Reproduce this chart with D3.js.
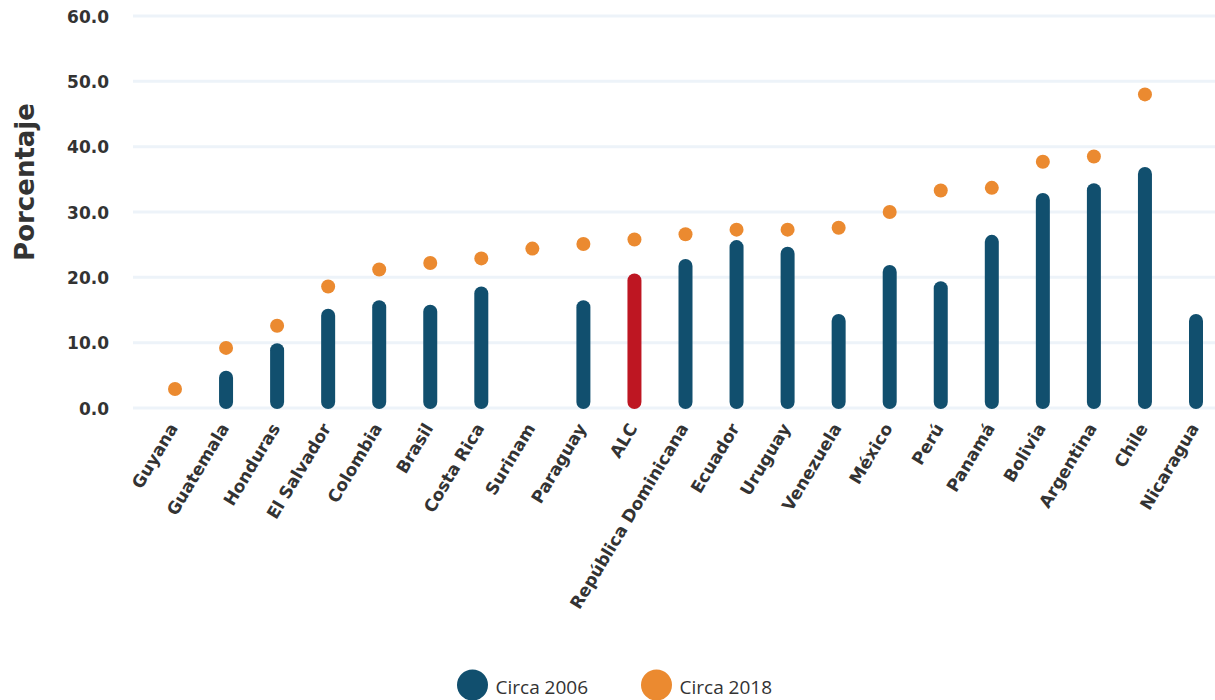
<!DOCTYPE html>
<html>
<head>
<meta charset="utf-8">
<script src="https://cdn.jsdelivr.net/npm/d3@7"></script>
<style>
  html, body { margin: 0; padding: 0; background: #fff; }
  svg { display: block; }
</style>
</head>
<body>
<svg id="chart" width="1215" height="700"></svg>
<script>
// Countries, ordered by the 2018 value
const categories = [
  "Guyana", "Guatemala", "Honduras", "El Salvador", "Colombia", "Brasil",
  "Costa Rica", "Surinam", "Paraguay", "ALC", "República Dominicana",
  "Ecuador", "Uruguay", "Venezuela", "México", "Perú", "Panamá",
  "Bolivia", "Argentina", "Chile", "Nicaragua"
];
// Circa 2006 (columns); null = no data
const values2006 = [
  null, 5.7, 9.9, 15.2, 16.5, 15.8,
  18.6, null, 16.5, 20.6, 22.8,
  25.7, 24.7, 14.4, 21.9, 19.4, 26.5,
  32.9, 34.4, 36.9, 14.4
];
// Circa 2018 (dots); null = no data
const values2018 = [
  2.9, 9.2, 12.6, 18.6, 21.2, 22.2,
  22.9, 24.4, 25.1, 25.8, 26.6,
  27.3, 27.3, 27.6, 30.0, 33.3, 33.7,
  37.7, 38.5, 48.0, null
];
const yTicks = [0, 10, 20, 30, 40, 50, 60];
const seriesNames = ["Circa 2006", "Circa 2018"];
const highlight = "ALC";

const colors = { s2006: "#114f6e", s2018: "#eb8a30", highlight: "#be1622",
                 grid: "#edf3f9", text: "#333333" };

const svg = d3.select("#chart");
const boldFont = "'DejaVu Sans', sans-serif";

const x = d3.scalePoint().domain(categories).range([175, 1196]);
const y = d3.scaleLinear().domain([0, 60]).range([408, 16]);

// Horizontal gridlines
svg.append("g").selectAll("line").data(yTicks).join("line")
  .attr("x1", 133).attr("x2", 1215)
  .attr("y1", d => y(d)).attr("y2", d => y(d))
  .attr("stroke", colors.grid).attr("stroke-width", 3);

// Y axis tick labels
const yAxis = d3.axisLeft(y).tickValues(yTicks).tickFormat(d3.format(".1f")).tickSize(0).tickPadding(0);
const gy = svg.append("g").attr("transform", "translate(109,0)").call(yAxis);
gy.select(".domain").remove();
gy.selectAll("text")
  .attr("font-family", boldFont).attr("font-weight", "bold")
  .attr("font-size", 17).attr("fill", colors.text).attr("dy", "0.36em");

// Y axis title
svg.append("text")
  .attr("transform", "translate(34,182) rotate(-90)")
  .attr("text-anchor", "middle")
  .attr("font-family", boldFont).attr("font-weight", "bold")
  .attr("font-size", 26).attr("fill", colors.text)
  .text("Porcentaje");

// X axis category labels
const xAxis = d3.axisBottom(x).tickSize(0).tickPadding(0);
const gx = svg.append("g").attr("transform", "translate(0,418)").call(xAxis);
gx.select(".domain").remove();
gx.selectAll("text")
  .attr("font-family", boldFont).attr("font-weight", "bold")
  .attr("font-size", 17).attr("fill", colors.text)
  .attr("text-anchor", "end")
  .attr("dy", 0)
  .attr("transform", "translate(3,10) rotate(-59)");

// Circa 2006 columns
const bars = categories.map((c, i) => ({ c, v: values2006[i] })).filter(d => d.v != null);
svg.append("g").selectAll("rect").data(bars).join("rect")
  .attr("x", d => x(d.c) - 7).attr("width", 14)
  .attr("y", d => y(d.v)).attr("height", d => y(0) - y(d.v) + 1)
  .attr("rx", 7).attr("ry", 7)
  .attr("fill", d => d.c === highlight ? colors.highlight : colors.s2006);

// Circa 2018 dots
const dots = categories.map((c, i) => ({ c, v: values2018[i] })).filter(d => d.v != null);
svg.append("g").selectAll("circle").data(dots).join("circle")
  .attr("cx", d => x(d.c)).attr("cy", d => y(d.v)).attr("r", 7)
  .attr("fill", colors.s2018);

// Legend
const legend = svg.append("g").selectAll("g").data(seriesNames).join("g")
  .attr("transform", (d, i) => `translate(${472.5 + i * 184},685)`);
legend.append("circle").attr("r", 15.5)
  .attr("fill", (d, i) => i === 0 ? colors.s2006 : colors.s2018);
legend.append("text").attr("x", 23).attr("y", 9)
  .attr("font-family", "'Open Sans', sans-serif").attr("font-size", 19)
  .attr("fill", colors.text).text(d => d);
</script>
</body>
</html>
